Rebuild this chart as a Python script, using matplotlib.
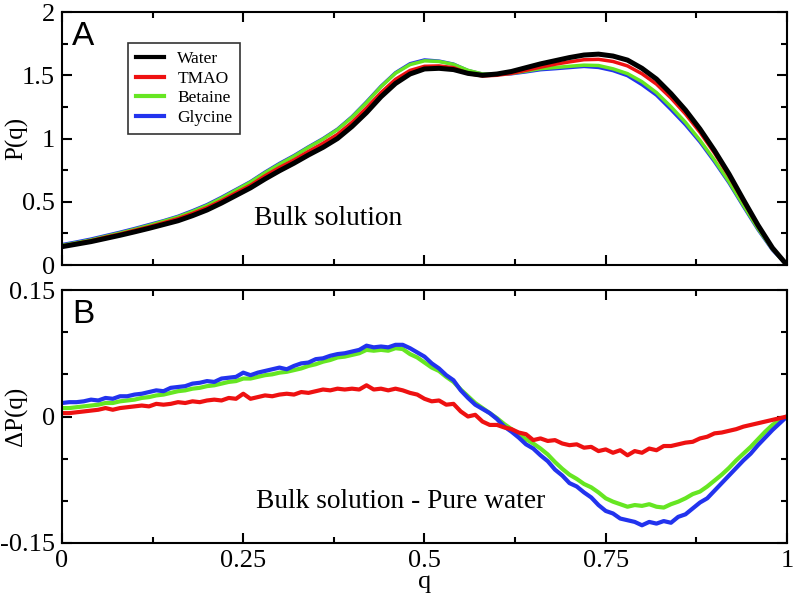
"""
Perfil P(q) de soluciones bulk y diferencia respecto al agua pura.
Salida: out.png
"""

import matplotlib
matplotlib.use("Agg")
import matplotlib.pyplot as plt
import numpy as np
from matplotlib.ticker import MultipleLocator

# ── Datos ──────────────────────────────────────────────────────────────────────

LABELS = ["Water", "TMAO", "Betaine", "Glycine"]
COLORS = ["black", "#ee1111", "#66e622", "#2233ee"]

# q para el panel A (paso 0.02) y para el panel B (paso 0.01)
q_top = np.round(np.arange(0, 51) * 0.02, 2)
q_bot = np.round(np.arange(0, 101) * 0.01, 2)

p_water = [
    0.145, 0.165, 0.185, 0.210, 0.235, 0.262, 0.290, 0.320, 0.350, 0.390,
    0.435, 0.490, 0.550, 0.610, 0.680, 0.745, 0.805, 0.870, 0.930, 1.000,
    1.095, 1.205, 1.330, 1.435, 1.510, 1.550, 1.555, 1.545, 1.515, 1.500,
    1.510, 1.530, 1.560, 1.590, 1.615, 1.640, 1.660, 1.667, 1.652, 1.620,
    1.555, 1.470, 1.355, 1.225, 1.075, 0.905, 0.720, 0.515, 0.315, 0.135,
    0.000,
]

dp_tmao = [
    0.004, 0.004, 0.005, 0.006, 0.007, 0.008, 0.010, 0.008, 0.010, 0.011,
    0.012, 0.013, 0.012, 0.015, 0.014, 0.015, 0.017, 0.016, 0.018, 0.017,
    0.019, 0.020, 0.019, 0.022, 0.021, 0.027, 0.021, 0.023, 0.025, 0.024,
    0.026, 0.027, 0.026, 0.029, 0.028, 0.030, 0.032, 0.031, 0.033, 0.032,
    0.033, 0.032, 0.037, 0.032, 0.033, 0.031, 0.033, 0.031, 0.028, 0.026,
    0.021, 0.018, 0.019, 0.014, 0.015, 0.006, 0.000, 0.002, -0.006, -0.010,
    -0.010, -0.013, -0.015, -0.019, -0.021, -0.028, -0.026, -0.029, -0.028, -0.032,
    -0.034, -0.033, -0.037, -0.036, -0.041, -0.039, -0.043, -0.040, -0.046, -0.041,
    -0.043, -0.038, -0.040, -0.035, -0.035, -0.033, -0.031, -0.030, -0.026, -0.024,
    -0.020, -0.019, -0.017, -0.015, -0.012, -0.010, -0.008, -0.006, -0.004, -0.002,
    0.000,
]
dp_betaine = [
    0.010, 0.010, 0.011, 0.012, 0.013, 0.014, 0.016, 0.016, 0.018, 0.019,
    0.020, 0.022, 0.023, 0.025, 0.026, 0.028, 0.030, 0.031, 0.033, 0.034,
    0.036, 0.037, 0.039, 0.041, 0.042, 0.045, 0.045, 0.047, 0.049, 0.050,
    0.052, 0.053, 0.055, 0.057, 0.060, 0.062, 0.065, 0.067, 0.070, 0.071,
    0.073, 0.075, 0.079, 0.078, 0.079, 0.078, 0.081, 0.080, 0.074, 0.070,
    0.064, 0.058, 0.054, 0.047, 0.041, 0.032, 0.024, 0.016, 0.010, 0.004,
    -0.002, -0.009, -0.015, -0.021, -0.027, -0.032, -0.038, -0.045, -0.054, -0.062,
    -0.069, -0.074, -0.080, -0.084, -0.090, -0.097, -0.101, -0.104, -0.107, -0.105,
    -0.106, -0.104, -0.107, -0.108, -0.104, -0.101, -0.097, -0.092, -0.089, -0.083,
    -0.076, -0.069, -0.061, -0.052, -0.044, -0.036, -0.027, -0.018, -0.010, -0.004,
    0.000,
]
dp_glycine = [
    0.016, 0.017, 0.017, 0.018, 0.020, 0.019, 0.022, 0.021, 0.024, 0.024,
    0.026, 0.027, 0.029, 0.031, 0.030, 0.034, 0.035, 0.036, 0.039, 0.040,
    0.042, 0.041, 0.045, 0.046, 0.047, 0.052, 0.049, 0.052, 0.054, 0.056,
    0.058, 0.056, 0.060, 0.063, 0.064, 0.068, 0.069, 0.072, 0.074, 0.075,
    0.077, 0.079, 0.084, 0.082, 0.083, 0.082, 0.085, 0.085, 0.081, 0.076,
    0.071, 0.063, 0.057, 0.049, 0.043, 0.031, 0.022, 0.014, 0.009, 0.004,
    -0.003, -0.012, -0.018, -0.025, -0.033, -0.038, -0.046, -0.053, -0.063, -0.070,
    -0.079, -0.083, -0.090, -0.096, -0.105, -0.112, -0.115, -0.121, -0.123, -0.125,
    -0.129, -0.125, -0.127, -0.124, -0.126, -0.119, -0.116, -0.109, -0.102, -0.097,
    -0.088, -0.079, -0.070, -0.061, -0.052, -0.044, -0.034, -0.025, -0.016, -0.008,
    0.000,
]

SERIF = "Liberation Serif"
SANS = "Liberation Sans"


def style_axis(ax, ymaj, ymin):
    ax.xaxis.set_major_locator(MultipleLocator(0.25))
    ax.xaxis.set_minor_locator(MultipleLocator(0.125))
    ax.yaxis.set_major_locator(MultipleLocator(ymaj))
    ax.yaxis.set_minor_locator(MultipleLocator(ymin))
    ax.tick_params(which="both", direction="in", top=True, right=True, width=1.5)
    ax.tick_params(which="major", length=7, labelsize=19, pad=5)
    ax.tick_params(which="minor", length=4)
    for s in ax.spines.values():
        s.set_linewidth(1.5)


# ── Figura ─────────────────────────────────────────────────────────────────────

fig = plt.figure(figsize=(7.93, 5.95), dpi=100)
ax1 = fig.add_axes([0.0782, 0.5546, 0.9142, 0.4252])
ax2 = fig.add_axes([0.0782, 0.0874, 0.9142, 0.4252])

# Panel A: P(q) = P_agua + ΔP
water = np.array(p_water)
top_series = [
    (water + np.array(dp_glycine)[::2], COLORS[3], 2.5),
    (water + np.array(dp_betaine)[::2], COLORS[2], 2.5),
    (water + np.array(dp_tmao)[::2], COLORS[1], 2.5),
    (water, COLORS[0], 3.6),
]
for vals, color, lw in top_series:
    ax1.plot(q_top, vals, color=color, lw=lw, solid_joinstyle="round")

ax1.set_xlim(0, 1)
ax1.set_ylim(0, 2)
style_axis(ax1, 0.5, 0.25)
ax1.set_yticks([0, 0.5, 1, 1.5, 2])
ax1.set_yticklabels(["0", "0.5", "1", "1.5", "2"], fontfamily=SERIF)
ax1.tick_params(labelbottom=False)
ax1.set_ylabel("P(q)", fontsize=18, fontfamily=SERIF)
ax1.yaxis.set_label_coords(-0.047, 0.5)
ax1.text(0.014, 0.965, "A", transform=ax1.transAxes, fontsize=24,
         fontfamily=SANS, va="top", ha="left")
ax1.text(0.265, 0.185, "Bulk solution", transform=ax1.transAxes,
         fontsize=19.7, fontfamily=SERIF, va="center", ha="left")

handles = [plt.Line2D([], [], color=c, lw=3) for c in COLORS]
leg = ax1.legend(handles, LABELS, loc="upper left", bbox_to_anchor=(0.091, 0.877),
                 prop={"family": SERIF, "size": 12.5}, frameon=True, fancybox=False,
                 handlelength=1.6, handletextpad=0.8, borderpad=0.45,
                 labelspacing=0.2, borderaxespad=0)
leg.get_frame().set_edgecolor("black")
leg.get_frame().set_linewidth(1.2)

# Panel B: ΔP(q)
ax2.plot(q_bot, dp_betaine, color=COLORS[2], lw=3)
ax2.plot(q_bot, dp_glycine, color=COLORS[3], lw=3)
ax2.plot(q_bot, dp_tmao, color=COLORS[1], lw=3)

ax2.set_xlim(0, 1)
ax2.set_ylim(-0.15, 0.15)
style_axis(ax2, 0.15, 0.05)
ax2.set_xticks([0, 0.25, 0.5, 0.75, 1])
ax2.set_xticklabels(["0", "0.25", "0.5", "0.75", "1"], fontfamily=SERIF)
ax2.set_yticks([-0.15, 0, 0.15])
ax2.set_yticklabels(["-0.15", "0", "0.15"], fontfamily=SERIF)
ax2.set_ylabel("ΔP(q)", fontsize=18, fontfamily=SERIF)
ax2.yaxis.set_label_coords(-0.047, 0.5)
ax2.set_xlabel("q", fontsize=19, fontfamily=SERIF, labelpad=-1)
ax2.text(0.014, 0.965, "B", transform=ax2.transAxes, fontsize=24,
         fontfamily=SANS, va="top", ha="left")
ax2.text(0.268, 0.165, "Bulk solution - Pure water", transform=ax2.transAxes,
         fontsize=19.7, fontfamily=SERIF, va="center", ha="left")

fig.savefig("out.png", dpi=100)
